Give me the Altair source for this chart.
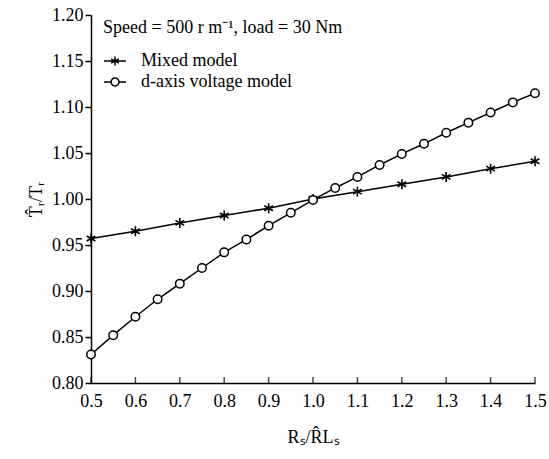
import altair as alt
import pandas as pd

# ---- data ----
x_mixed = [0.5, 0.6, 0.7, 0.8, 0.9, 1.0, 1.1, 1.2, 1.3, 1.4, 1.5]
y_mixed = [0.957, 0.965, 0.974, 0.982, 0.990, 1.000, 1.008, 1.016, 1.024, 1.033, 1.041]

x_daxis = [0.50, 0.55, 0.60, 0.65, 0.70, 0.75, 0.80, 0.85, 0.90, 0.95, 1.00,
           1.05, 1.10, 1.15, 1.20, 1.25, 1.30, 1.35, 1.40, 1.45, 1.50]
y_daxis = [0.831, 0.852, 0.872, 0.891, 0.908, 0.925, 0.942, 0.956, 0.971, 0.985, 0.999,
           1.012, 1.024, 1.037, 1.049, 1.060, 1.072, 1.083, 1.094, 1.105, 1.115]

series_names = ["Mixed model", "d-axis voltage model"]
x_ticks = [0.5, 0.6, 0.7, 0.8, 0.9, 1.0, 1.1, 1.2, 1.3, 1.4, 1.5]
y_ticks = [0.80, 0.85, 0.90, 0.95, 1.00, 1.05, 1.10, 1.15, 1.20]

legend_title = "Speed = 500 r m\u207b\u00b9, load = 30 Nm"
x_title = "R\u209b/R\u0302L\u209b"
y_title = "T\u0302\u1d63/T\u1d63"

FONT = "Liberation Serif"

df_mixed = pd.DataFrame({"x": x_mixed, "y": y_mixed, "series": series_names[0]})
df_daxis = pd.DataFrame({"x": x_daxis, "y": y_daxis, "series": series_names[1]})
df_all = pd.concat([df_mixed, df_daxis], ignore_index=True)
df_xt = pd.DataFrame({"x": x_ticks})

STAR = "M0,-1L0,1M-0.87,-0.5L0.87,0.5M-0.87,0.5L0.87,-0.5"
LEG_STAR = ("M-1,0L1,0M0,-0.4L0,0.4M-0.35,-0.2L0.35,0.2M-0.35,0.2L0.35,-0.2")
LEG_CIRC = ("M-1,0L-0.36,0M0.36,0L1,0"
            "M-0.36,0A0.36,0.36 0 1,1 0.36,0A0.36,0.36 0 1,1 -0.36,0")

xscale = alt.Scale(domain=[0.5, 1.5], nice=False, zero=False)
yscale = alt.Scale(domain=[0.80, 1.20], nice=False, zero=False)

xenc = alt.X("x:Q", scale=xscale,
             axis=alt.Axis(values=x_ticks, format=".1f", title=x_title,
                           tickSize=0, labelPadding=9, titlePadding=18,
                           labelFlush=False, labelOverlap=False))
yenc = alt.Y("y:Q", scale=yscale,
             axis=alt.Axis(values=y_ticks, format=".2f", title=y_title,
                           tickSize=6, labelPadding=2, titlePadding=6,
                           labelFlush=False, labelOverlap=False))

lines = alt.Chart(df_all).mark_line(color="black", strokeWidth=1.5).encode(
    x=xenc, y=yenc, detail="series:N")

pts_mixed = alt.Chart(df_mixed).mark_point(
    shape=STAR, size=100, color="black", strokeWidth=1.6, filled=False, opacity=1
).encode(x="x:Q", y="y:Q")

pts_daxis = alt.Chart(df_daxis).mark_point(
    shape="circle", size=72, stroke="black", fill="white", filled=True,
    strokeWidth=1.5, opacity=1
).encode(x="x:Q", y="y:Q")

legend_layer = alt.Chart(df_all).mark_point(opacity=0).encode(
    x="x:Q", y="y:Q",
    shape=alt.Shape("series:N",
                    scale=alt.Scale(domain=series_names, range=[LEG_STAR, LEG_CIRC]),
                    legend=alt.Legend(
                        title=legend_title, orient="none", legendX=12, legendY=4,
                        symbolSize=484, symbolStrokeColor="black",
                        symbolFillColor="white", symbolStrokeWidth=1.5,
                        symbolOpacity=1, labelFont=FONT, labelFontSize=18,
                        labelColor="black", titleFont=FONT, titleFontSize=18,
                        titleFontWeight="normal", titleColor="black",
                        titleLimit=500, labelLimit=400, labelOffset=14,
                        rowPadding=0, titlePadding=12)))

xticks_layer = alt.Chart(df_xt).mark_tick(
    orient="vertical", size=6, thickness=1.5, color="black", yOffset=-3
).encode(x="x:Q", y=alt.datum(0.80))

chart = alt.layer(lines, pts_mixed, pts_daxis, legend_layer, xticks_layer).properties(
    width=444, height=368,
    autosize=alt.AutoSizeParams(type="none"),
    padding={"left": 91, "top": 15, "right": 14, "bottom": 76},
    background="white",
).configure_view(stroke=None).configure_axis(
    grid=False, domainColor="black", domainWidth=1.5, tickColor="black",
    tickWidth=1.5, labelColor="black", titleColor="black",
    labelFont=FONT, titleFont=FONT, labelFontSize=18, titleFontSize=18,
    titleFontWeight="normal",
)

chart.save("out.html", embed_options={"renderer": "svg", "actions": False})
